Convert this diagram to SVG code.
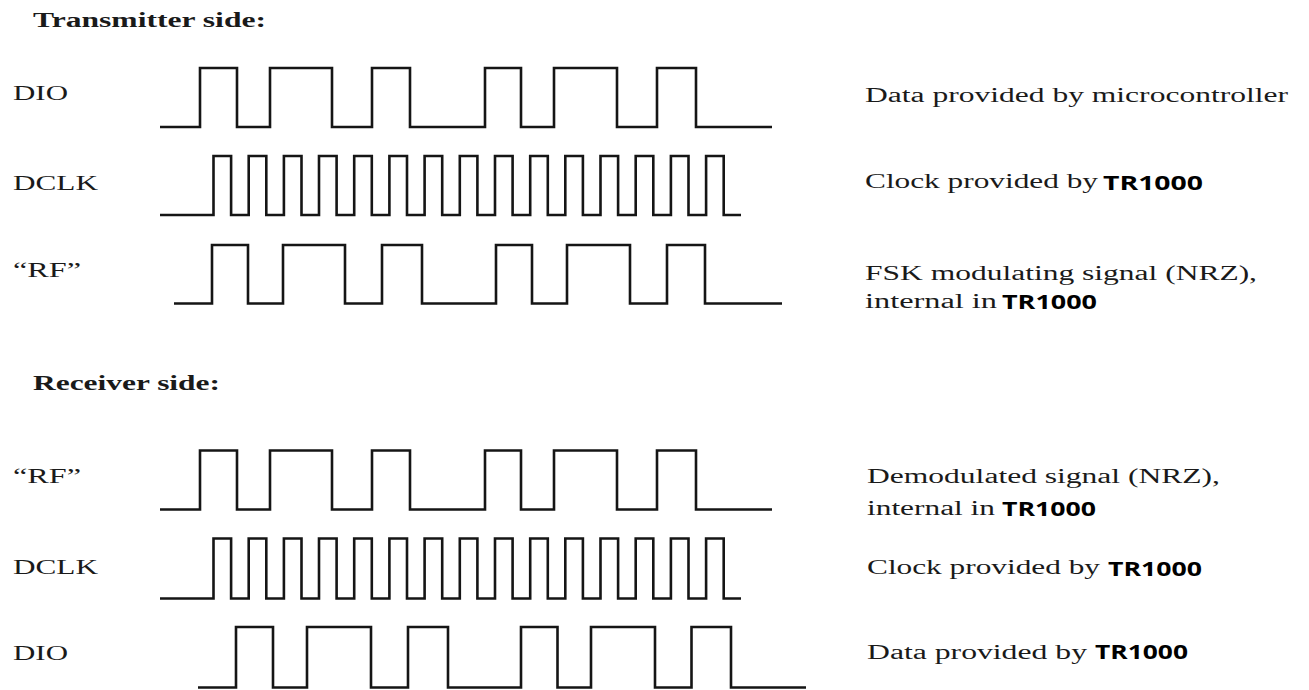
<svg xmlns="http://www.w3.org/2000/svg" width="1309" height="690" viewBox="0 0 1309 690">
<style>
  .wave { fill: none; stroke: #151515; stroke-width: 2.6; stroke-linejoin: miter; stroke-linecap: butt; }
  .lbl { font-family: "Liberation Serif", "Times New Roman", serif; font-size: 22px; fill: #1a1a1a; }
  .hdr { font-family: "Liberation Serif", "Times New Roman", serif; font-size: 20px; font-weight: bold; fill: #1a1a1a; }
  .desc { font-family: "Liberation Serif", "Times New Roman", serif; font-size: 20px; fill: #1a1a1a; }
  .chip { font-family: "Open Sans", "Liberation Sans", sans-serif; font-size: 20px; font-weight: bold; fill: #000; }
</style>
<rect width="1309" height="690" fill="#fff"/>

<g id="transmitter">
  <text class="hdr" x="33" y="27" textLength="233" lengthAdjust="spacingAndGlyphs">Transmitter side:</text>

  <g id="tx-dio">
    <text class="lbl" x="13" y="100" textLength="55" lengthAdjust="spacingAndGlyphs">DIO</text>
    <path class="wave" d="M160 127 H200 V68 H237 V127 H270 V68 H332 V127 H372 V68 H410 V127 H485 V68 H521 V127 H554 V68 H617 V127 H657 V68 H696 V127 H772"/>
    <text class="desc" x="865" y="102" textLength="423" lengthAdjust="spacingAndGlyphs">Data provided by microcontroller</text>
  </g>

  <g id="tx-dclk">
    <text class="lbl" x="13" y="190" textLength="85" lengthAdjust="spacingAndGlyphs">DCLK</text>
    <path class="wave" d="M160 215 H213.5 V156 H231.1 V215 H248.7 V156 H266.3 V215 H283.9 V156 H301.5 V215 H319.0 V156 H336.6 V215 H354.2 V156 H371.8 V215 H389.4 V156 H407.0 V215 H424.6 V156 H442.2 V215 H459.8 V156 H477.4 V215 H495.0 V156 H512.6 V215 H530.2 V156 H547.8 V215 H565.3 V156 H582.9 V215 H600.5 V156 H618.1 V215 H635.7 V156 H653.3 V215 H670.9 V156 H688.5 V215 H706.1 V156 H723.7 V215 H741"/>
    <text class="desc" x="865" y="188" textLength="233" lengthAdjust="spacingAndGlyphs">Clock provided by</text>
    <text class="chip" x="1103" y="190" textLength="100" lengthAdjust="spacingAndGlyphs">TR1000</text>
  </g>

  <g id="tx-rf">
    <text class="lbl" x="13" y="277" textLength="68" lengthAdjust="spacingAndGlyphs">“RF”</text>
    <path class="wave" d="M174 303.5 H212 V245 H248 V303.5 H283 V245 H345 V303.5 H382 V245 H422 V303.5 H496 V245 H532 V303.5 H567 V245 H630 V303.5 H667 V245 H705 V303.5 H782"/>
    <text class="desc" x="865" y="280" textLength="392" lengthAdjust="spacingAndGlyphs">FSK modulating signal (NRZ),</text>
    <text class="desc" x="865" y="308" textLength="132" lengthAdjust="spacingAndGlyphs">internal in</text>
    <text class="chip" x="1002" y="309" textLength="95" lengthAdjust="spacingAndGlyphs">TR1000</text>
  </g>
</g>

<g id="receiver">
  <text class="hdr" x="33" y="390" textLength="187" lengthAdjust="spacingAndGlyphs">Receiver side:</text>

  <g id="rx-rf">
    <text class="lbl" x="13" y="483" textLength="68" lengthAdjust="spacingAndGlyphs">“RF”</text>
    <path class="wave" d="M160 509.5 H200 V450.5 H237 V509.5 H270 V450.5 H332 V509.5 H372 V450.5 H410 V509.5 H485 V450.5 H521 V509.5 H554 V450.5 H617 V509.5 H657 V450.5 H696 V509.5 H772"/>
    <text class="desc" x="867" y="483" textLength="353" lengthAdjust="spacingAndGlyphs">Demodulated signal (NRZ),</text>
    <text class="desc" x="867" y="515" textLength="128" lengthAdjust="spacingAndGlyphs">internal in</text>
    <text class="chip" x="1002" y="516" textLength="94" lengthAdjust="spacingAndGlyphs">TR1000</text>
  </g>

  <g id="rx-dclk">
    <text class="lbl" x="13" y="573.5" textLength="85" lengthAdjust="spacingAndGlyphs">DCLK</text>
    <path class="wave" d="M160 598.5 H213.5 V538.5 H231.1 V598.5 H248.7 V538.5 H266.3 V598.5 H283.9 V538.5 H301.5 V598.5 H319.0 V538.5 H336.6 V598.5 H354.2 V538.5 H371.8 V598.5 H389.4 V538.5 H407.0 V598.5 H424.6 V538.5 H442.2 V598.5 H459.8 V538.5 H477.4 V598.5 H495.0 V538.5 H512.6 V598.5 H530.2 V538.5 H547.8 V598.5 H565.3 V538.5 H582.9 V598.5 H600.5 V538.5 H618.1 V598.5 H635.7 V538.5 H653.3 V598.5 H670.9 V538.5 H688.5 V598.5 H706.1 V538.5 H723.7 V598.5 H741"/>
    <text class="desc" x="867" y="573.5" textLength="233" lengthAdjust="spacingAndGlyphs">Clock provided by</text>
    <text class="chip" x="1108" y="576" textLength="94" lengthAdjust="spacingAndGlyphs">TR1000</text>
  </g>

  <g id="rx-dio">
    <text class="lbl" x="13" y="660" textLength="55" lengthAdjust="spacingAndGlyphs">DIO</text>
    <path class="wave" d="M198 687.5 H236 V627 H273 V687.5 H307 V627 H371 V687.5 H408 V627 H448 V687.5 H521 V627 H557.5 V687.5 H591 V627 H655 V687.5 H691.5 V627 H731 V687.5 H806"/>
    <text class="desc" x="867" y="658.5" textLength="220" lengthAdjust="spacingAndGlyphs">Data provided by</text>
    <text class="chip" x="1095" y="659" textLength="93" lengthAdjust="spacingAndGlyphs">TR1000</text>
  </g>
</g>
</svg>
